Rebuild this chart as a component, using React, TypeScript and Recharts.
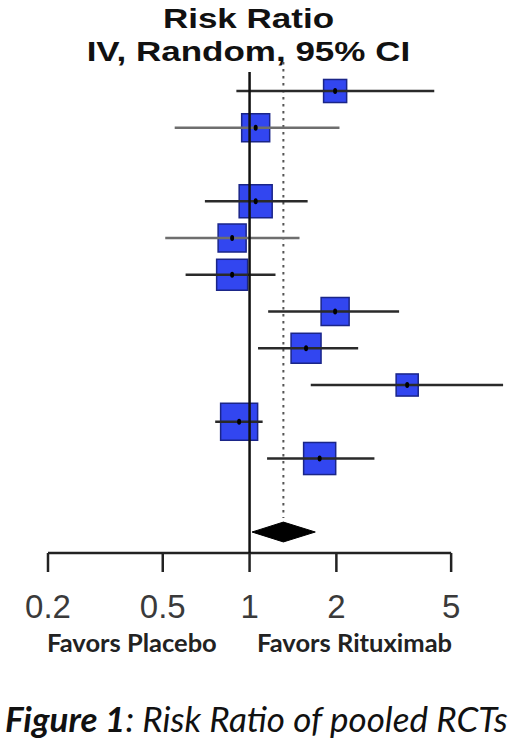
import React from "react";
import {
  Area,
  ComposedChart,
  ReferenceLine,
  Scatter,
  XAxis,
  YAxis,
  ZAxis,
} from "recharts";

// study rows (top = 0), rows 2 and 11 are left blank
const studyRows = [0, 1, 3, 4, 5, 6, 7, 8, 9, 10];
const riskRatio = [1.98, 1.05, 1.05, 0.87, 0.87, 1.98, 1.57, 3.52, 0.92, 1.75];
const ciLower = [0.9, 0.55, 0.7, 0.51, 0.6, 1.16, 1.07, 1.63, 0.76, 1.15];
const ciUpper = [4.37, 2.05, 1.59, 1.49, 1.23, 3.3, 2.38, 7.57, 1.11, 2.71];
const weights = [6.1, 9.0, 12.5, 9.0, 11.0, 9.0, 10.3, 5.6, 15.7, 11.8];

const pooledRow = 12;
const pooledRR = 1.31;
const pooledLower = 1.02;
const pooledUpper = 1.69;

const xTicks = [0.2, 0.5, 1, 2, 5];

const W = 520;
const CHART_H = 630;
const Y_DOMAIN: [number, number] = [-2.476, 12.571];
const DIAMOND_HALF = 0.27;
const ciStroke = ["#2a2a2a", "#6e6e6e", "#2a2a2a", "#6e6e6e", "#2a2a2a", "#2a2a2a", "#2a2a2a", "#2a2a2a", "#2a2a2a", "#2a2a2a"];

const studies = studyRows.map((row, i) => ({
  x: riskRatio[i],
  y: row,
  z: weights[i],
}));

const diamond = [
  { x: pooledLower, band: [pooledRow, pooledRow] },
  { x: pooledRR, band: [pooledRow - DIAMOND_HALF, pooledRow + DIAMOND_HALF] },
  { x: pooledUpper, band: [pooledRow, pooledRow] },
];

const noVertical = [
  { x: 1, y: -0.52 },
  { x: 1, y: Y_DOMAIN[1] },
];

const Box = (p: any) => {
  const side = p.size ? Math.sqrt(p.size) : ((p.width ?? 20) * Math.sqrt(Math.PI)) / 2;
  return (
    <rect
      x={p.cx - side / 2}
      y={p.cy - side / 2}
      width={side}
      height={side}
      fill="#3246f0"
      stroke="#1a2588"
      strokeWidth={1.5}
    />
  );
};

const Dot = (p: any) => <ellipse cx={p.cx} cy={p.cy} rx={2} ry={3} fill="#000" />;
const Nothing = () => <g />;

export default function App() {
  return (
    <div
      style={{
        position: "absolute",
        left: 0,
        top: 0,
        width: W,
        height: 748,
        background: "#fff",
        overflow: "hidden",
      }}
    >
      <div
        style={{
          position: "absolute",
          left: 0,
          top: 2,
          width: 496,
          textAlign: "center",
          fontFamily: "'Liberation Sans', Arial, sans-serif",
          fontWeight: 700,
          fontSize: 28,
          lineHeight: "33px",
          color: "#111",
        }}
      >
        <span style={{ display: "inline-block", transform: "scaleX(1.25)" }}>Risk Ratio</span>
        <br />
        <span style={{ display: "inline-block", transform: "scaleX(1.25)" }}>IV, Random, 95% CI</span>
      </div>

      <ComposedChart
        width={W}
        height={CHART_H}
        margin={{ top: 0, right: 10, bottom: 0, left: 48 }}
        style={{ position: "absolute", left: 0, top: 0 }}
      >
        <XAxis
          type="number"
          dataKey="x"
          scale="log"
          domain={[0.2, 8]}
          ticks={xTicks}
          interval={0}
          allowDataOverflow
          axisLine={false}
          tickLine={{ stroke: "#222", strokeWidth: 2.5 }}
          tickSize={19}
          tickMargin={23}
          height={CHART_H - 553}
          tick={{ fontSize: 33, fill: "#3a3a3a", fontFamily: "'Liberation Sans', Arial, sans-serif" }}
          tickFormatter={(v: number) => String(v)}
        />
        <YAxis type="number" dataKey="y" domain={Y_DOMAIN} reversed hide allowDataOverflow />
        <ZAxis type="number" dataKey="z" domain={[0, 16]} range={[0, 1395]} />

        <ReferenceLine
          segment={[{ x: 0.2, y: Y_DOMAIN[1] }, { x: 5, y: Y_DOMAIN[1] }]}
          stroke="#222"
          strokeWidth={2.5}
        />
        <ReferenceLine
          segment={[{ x: pooledRR, y: -0.79 }, { x: pooledRR, y: 11.62 }]}
          stroke="#555"
          strokeWidth={2}
          strokeDasharray="2.5 4.5"
        />

        <Scatter data={studies} shape={Box} isAnimationActive={false} />

        {studyRows.map((row, i) => (
          <Scatter
            key={row}
            data={[
              { x: ciLower[i], y: row },
              { x: ciUpper[i], y: row },
            ]}
            line={{ stroke: ciStroke[i], strokeWidth: 2.5 }}
            shape={Nothing}
            isAnimationActive={false}
          />
        ))}

        <Scatter data={studies} shape={Dot} isAnimationActive={false} />

        <Area
          data={diamond}
          dataKey="band"
          type="linear"
          fill="#000"
          fillOpacity={1}
          stroke="#000"
          strokeWidth={1}
          isAnimationActive={false}
          dot={false}
          activeDot={false}
        />

        <Scatter
          data={noVertical}
          line={{ stroke: "#111", strokeWidth: 2.5 }}
          shape={Nothing}
          isAnimationActive={false}
        />
      </ComposedChart>

      <div
        style={{
          position: "absolute",
          top: 627,
          left: 0,
          width: W,
          fontFamily: "Lato, 'Open Sans', sans-serif",
          fontWeight: 700,
          fontSize: 25.5,
          color: "#222",
          whiteSpace: "nowrap",
        }}
      >
        <span style={{ position: "absolute", left: 47 }}>Favors Placebo</span>
        <span style={{ position: "absolute", left: 257 }}>Favors Rituximab</span>
      </div>

      <div
        style={{
          position: "absolute",
          top: 697,
          left: 5,
          fontFamily: "Lato, 'Open Sans', sans-serif",
          fontStyle: "italic",
          fontSize: 35,
          color: "#111",
          whiteSpace: "nowrap",
        }}
      >
        <b>Figure 1</b>: Risk Ratio of pooled RCTs
      </div>
    </div>
  );
}
